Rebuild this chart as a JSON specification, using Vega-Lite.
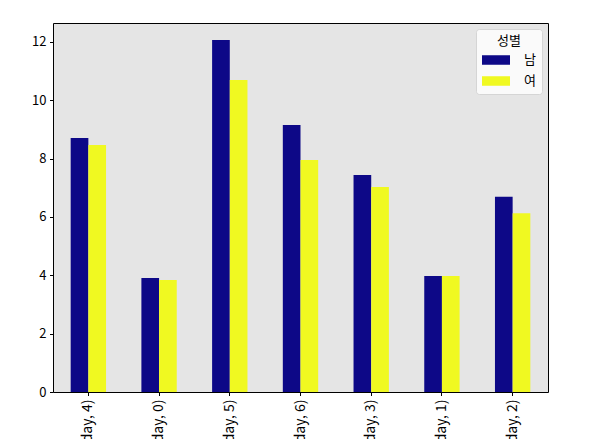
{
  "$schema": "https://vega.github.io/schema/vega-lite/v6.json",
  "autosize": {"type": "none"},
  "width": 495,
  "height": 369,
  "padding": {"left": 53, "top": 23, "right": 48, "bottom": 47},
  "background": "white",
  "config": {
    "font": "Noto Sans CJK KR",
    "view": {"fill": "#e5e5e5", "stroke": "black", "strokeWidth": 1},
    "axis": {
      "domain": false,
      "grid": false,
      "tickColor": "black",
      "tickSize": 3.5,
      "labelPadding": 3.5,
      "labelColor": "black",
      "labelFontSize": 13,
      "title": null
    }
  },
  "data": {
    "values": [
      {"day": "(Friday, 4)", "sex": "남", "value": 8.71},
      {"day": "(Friday, 4)", "sex": "여", "value": 8.47},
      {"day": "(Monday, 0)", "sex": "남", "value": 3.91},
      {"day": "(Monday, 0)", "sex": "여", "value": 3.84},
      {"day": "(Saturday, 5)", "sex": "남", "value": 12.07},
      {"day": "(Saturday, 5)", "sex": "여", "value": 10.7},
      {"day": "(Sunday, 6)", "sex": "남", "value": 9.15},
      {"day": "(Sunday, 6)", "sex": "여", "value": 7.95},
      {"day": "(Thursday, 3)", "sex": "남", "value": 7.44},
      {"day": "(Thursday, 3)", "sex": "여", "value": 7.03},
      {"day": "(Tuesday, 1)", "sex": "남", "value": 3.98},
      {"day": "(Tuesday, 1)", "sex": "여", "value": 3.98},
      {"day": "(Wednesday, 2)", "sex": "남", "value": 6.69},
      {"day": "(Wednesday, 2)", "sex": "여", "value": 6.13}
    ]
  },
  "mark": {"type": "bar", "cornerRadius": 0},
  "encoding": {
    "x": {
      "field": "day",
      "type": "nominal",
      "sort": null,
      "scale": {"paddingInner": 0.5, "paddingOuter": 0.25},
      "axis": {"labelAngle": -90, "labelFontSize": 14}
    },
    "xOffset": {
      "field": "sex",
      "type": "nominal",
      "sort": ["남", "여"],
      "scale": {"paddingInner": 0, "paddingOuter": 0}
    },
    "y": {
      "field": "value",
      "type": "quantitative",
      "scale": {"domain": [0, 12.65], "nice": false},
      "axis": {"values": [0, 2, 4, 6, 8, 10, 12]}
    },
    "color": {
      "field": "sex",
      "type": "nominal",
      "sort": ["남", "여"],
      "scale": {"domain": ["남", "여"], "range": ["#0d0887", "#f0f921"]},
      "legend": {
        "title": "성별",
        "orient": "top-right",
        "offset": 6,
        "padding": 6,
        "fillColor": "#fafafa",
        "strokeColor": "#d5d5d5",
        "cornerRadius": 3,
        "titleFontSize": 13,
        "titleFontWeight": "normal",
        "titleColor": "black",
        "titleAnchor": "middle",
        "titlePadding": 5,
        "labelFontSize": 13,
        "labelColor": "black",
        "labelOffset": 21,
        "rowPadding": 7,
        "symbolOffset": 7,
        "symbolType": "M-2,-0.68H2V0.68H-2Z",
        "symbolSize": 196,
        "symbolStrokeWidth": 0,
        "symbolOpacity": 1
      }
    }
  }
}
